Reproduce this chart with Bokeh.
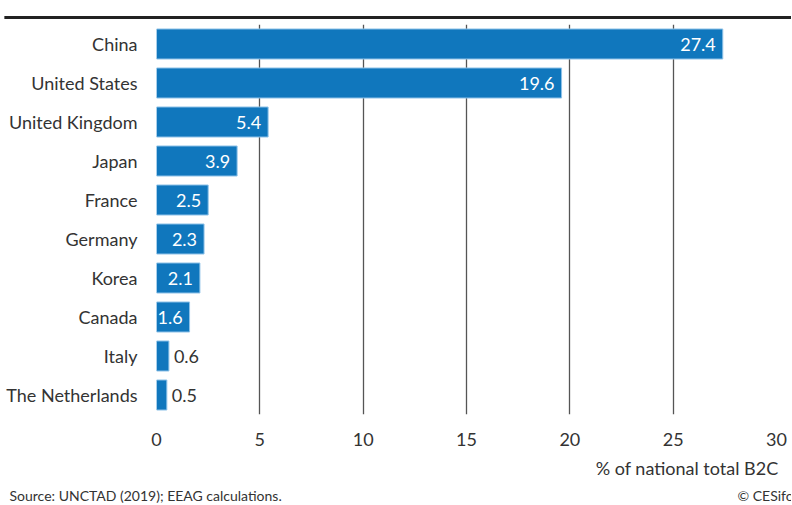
from bokeh.plotting import figure
from bokeh.models import Label, LabelSet, ColumnDataSource, FactorRange
from bokeh.core.properties import value
from bokeh.embed import file_html
from bokeh.resources import INLINE

countries = ["China", "United States", "United Kingdom", "Japan", "France",
             "Germany", "Korea", "Canada", "Italy", "The Netherlands"]
shares = [27.4, 19.6, 5.4, 3.9, 2.5, 2.3, 2.1, 1.6, 0.6, 0.5]
x_ticks = [0, 5, 10, 15, 20, 25, 30]
x_label = "% of national total B2C"
source_note = "Source: UNCTAD (2019); EEAG calculations."
credit = "© CESifo"

FONT = "Lato"
TEXT = "#333333"
BAR = "#1077bd"

inside = ColumnDataSource(dict(
    country=[c for c, v in zip(countries, shares) if v >= 1],
    share=[v for v in shares if v >= 1],
    lab=[f"{v:.1f}" for v in shares if v >= 1]))
outside = ColumnDataSource(dict(
    country=[c for c, v in zip(countries, shares) if v < 1],
    share=[v for v in shares if v < 1],
    lab=[f"{v:.1f}" for v in shares if v < 1]))
src = ColumnDataSource(dict(country=countries, share=shares))

p = figure(width=791, height=504, x_range=(0, 30),
           y_range=FactorRange(factors=list(reversed(countries)), range_padding=0),
           output_backend="svg", toolbar_location=None,
           min_border_left=156, min_border_right=15,
           min_border_top=24, min_border_bottom=89)
p.outline_line_color = None

p.hbar(y="country", left=0, right="share", height=0.77, source=src,
       fill_color=BAR, line_color="#8ec2e8", line_width=1)

p.add_layout(LabelSet(x="share", y="country", text="lab", source=inside,
                      x_offset=-7, text_align="right", text_baseline="middle",
                      text_color="white", text_font_size="18px", text_font=value(FONT)))
p.add_layout(LabelSet(x="share", y="country", text="lab", source=outside,
                      x_offset=5, text_align="left", text_baseline="middle",
                      text_color=TEXT, text_font_size="18px", text_font=value(FONT)))

p.xgrid.ticker = x_ticks
p.xgrid.grid_line_color = "#555555"
p.xgrid.grid_line_width = 1.3
p.ygrid.grid_line_color = None

p.xaxis.ticker = x_ticks
p.xaxis.axis_line_color = None
p.xaxis.major_tick_line_color = None
p.xaxis.minor_tick_line_color = None
p.xaxis.major_label_standoff = 12
p.xaxis.major_label_text_font = FONT
p.xaxis.major_label_text_font_size = "18px"
p.xaxis.major_label_text_color = TEXT

p.yaxis.axis_line_color = None
p.yaxis.major_tick_line_color = None
p.yaxis.major_label_standoff = 13
p.yaxis.major_label_text_font = FONT
p.yaxis.major_label_text_font_size = "18px"
p.yaxis.major_label_text_color = TEXT

# texts under the chart (side-panel labels, offsets in px from their panel)
p.add_layout(Label(x=622, y=3, x_units="screen", y_units="screen", text=x_label,
                   text_align="right", text_baseline="middle", text_color=TEXT,
                   text_font=FONT, text_font_size="18px"), "below")
p.add_layout(Label(x=-147, y=-8, x_units="screen", y_units="screen", text=source_note,
                   text_align="left", text_baseline="middle", text_color=TEXT,
                   text_font=FONT, text_font_size="14px"), "below")
p.add_layout(Label(x=581, y=9, x_units="screen", y_units="screen", text=credit,
                   text_align="left", text_baseline="middle", text_color=TEXT,
                   text_font=FONT, text_font_size="14px"), "below")

# thick rule above the chart
p.add_layout(Label(x=243, y=7, x_units="screen", y_units="screen", text=" ",
                   text_align="center", text_baseline="middle", text_font_size="1px",
                   background_fill_color="#222222", padding=dict(x=395, y=1)), "above")

open("out.html", "w").write(file_html(p, INLINE))
